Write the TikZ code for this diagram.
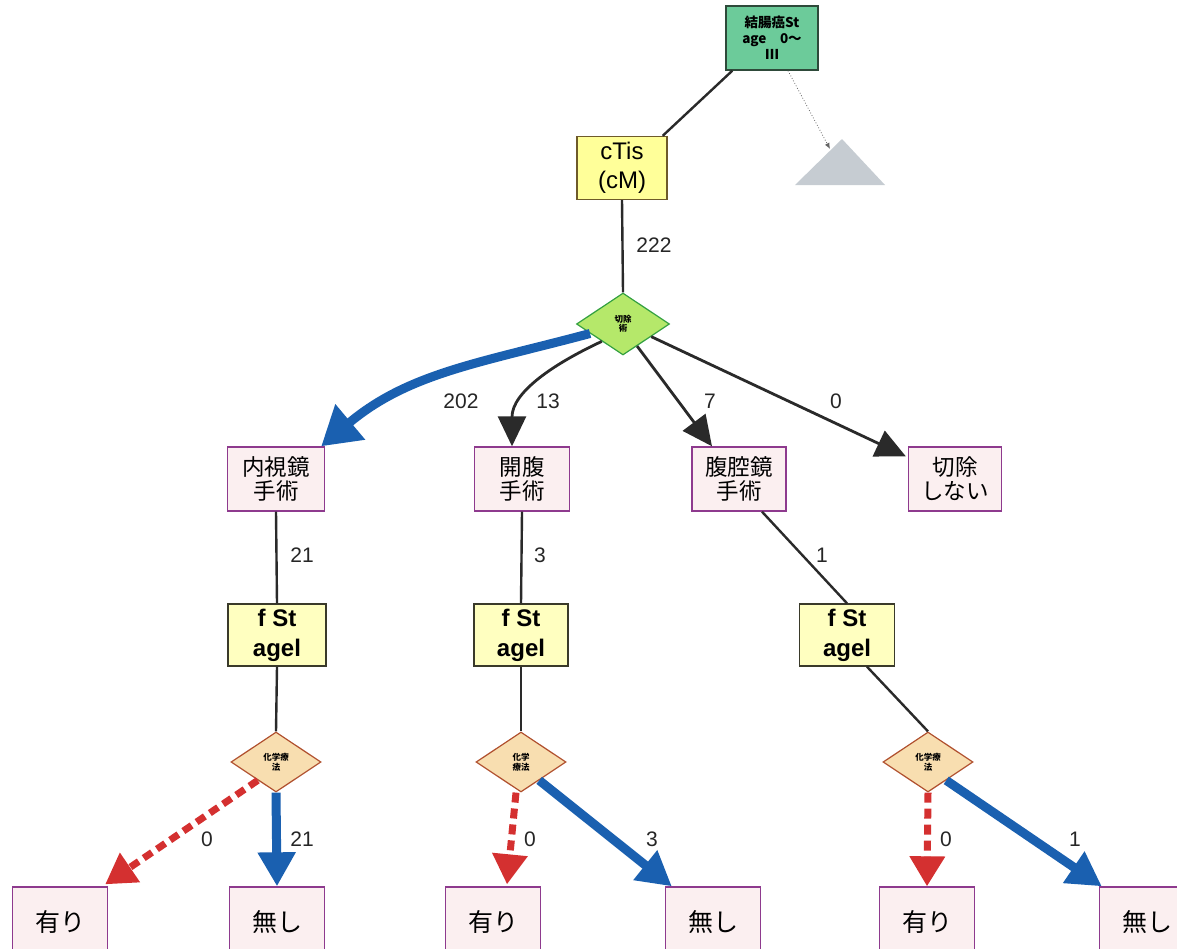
\documentclass[tikz,border=0pt]{standalone}
\usepackage{fontspec}
\setmainfont{Liberation Sans}
\newfontfamily\jp{Noto Sans CJK JP}
\usetikzlibrary{shapes.geometric,arrows.meta,calc}
\definecolor{topgreen}{HTML}{6CCB9A}
\definecolor{topborder}{HTML}{2E4A3A}
\definecolor{ctisyellow}{HTML}{FFFF99}
\definecolor{ctisborder}{HTML}{6E5A2A}
\definecolor{d1fill}{HTML}{B5E86A}
\definecolor{d1border}{HTML}{33A040}
\definecolor{pinkfill}{HTML}{FBEFF0}
\definecolor{purpleborder}{HTML}{8E3A8E}
\definecolor{fyellow}{HTML}{FFFFC0}
\definecolor{fborder}{HTML}{3A3A2A}
\definecolor{tanfill}{HTML}{F8DEB0}
\definecolor{tanborder}{HTML}{B0502E}
\definecolor{myblue}{HTML}{1A60B0}
\definecolor{myred}{HTML}{D43030}
\definecolor{trigray}{HTML}{C6CCD2}
\definecolor{lineblack}{HTML}{2A2A2A}
\begin{document}
\begin{tikzpicture}[x=1pt,y=1pt,
  box/.style={draw, rectangle, inner sep=0pt, align=center, line width=1.4pt},
  topbox/.style={box, fill=topgreen, draw=topborder, minimum width=92, minimum height=64,
    font=\jp\bfseries\fontsize{13.5}{16}\selectfont},
  ctisbox/.style={box, fill=ctisyellow, draw=ctisborder, minimum width=90, minimum height=63,
    font=\fontsize{24}{29}\selectfont},
  pinkbox/.style={box, fill=pinkfill, draw=purpleborder, minimum height=64,
    font=\jp\fontsize{22.5}{24}\selectfont},
  fbox/.style={box, fill=fyellow, draw=fborder, minimum height=62,
    font=\bfseries\fontsize{24}{30}\selectfont},
  leafbox/.style={box, fill=pinkfill, draw=purpleborder, minimum width=95, minimum height=70,
    font=\jp\fontsize{25}{28}\selectfont},
  bigdia/.style={diamond, draw=d1border, fill=d1fill, line width=1.2pt, inner sep=0pt,
    minimum width=93, minimum height=62, font=\jp\bfseries\fontsize{8.5}{9}\selectfont, align=center},
  smalldia/.style={diamond, draw=tanborder, fill=tanfill, line width=1.2pt, inner sep=0pt,
    minimum width=90, minimum height=60, font=\jp\bfseries\fontsize{8.5}{9.5}\selectfont, align=center},
  num/.style={inner sep=1pt, font=\fontsize{21}{23}\selectfont, text=black!85},
  plainline/.style={draw=lineblack, line width=2.4pt},
  blackarrow/.style={draw=lineblack, line width=2.8pt, -{Triangle[length=30pt,width=28pt]}},
  bluebig/.style={draw=myblue, line width=9pt, -{Triangle[length=38pt,width=44pt]}},
  blueshort/.style={draw=myblue, line width=9pt, -{Triangle[length=34pt,width=36pt]}},
  reddash/.style={draw=myred, line width=7pt, dash pattern=on 10pt off 6pt,
    -{Triangle[length=30pt,width=34pt]}}
]
\path[use as bounding box] (0,-948) rectangle (1177,0);
\clip (0,-948) rectangle (1177,0);

% nodes
\node[topbox] (top) at (772,-38) {結腸癌St\\age　0～\\Ⅲ};
\node[ctisbox] (ctis) at (622,-168) {cTis\\(cM)};
\node[bigdia] (d1) at (623,-324) {切除\\術};

\node[pinkbox, minimum width=97] (c1) at (276,-479) {内視鏡\\手術};
\node[pinkbox, minimum width=95] (c2) at (522,-479) {開腹\\手術};
\node[pinkbox, minimum width=94] (c3) at (739,-479) {腹腔鏡\\手術};
\node[pinkbox, minimum width=93] (c4) at (955,-479) {切除\\しない};

\node[fbox, minimum width=98] (f1) at (277,-635) {f St\\agel};
\node[fbox, minimum width=94] (f2) at (521,-635) {f St\\agel};
\node[fbox, minimum width=95] (f3) at (847,-635) {f St\\agel};

\node[smalldia] (g1) at (276,-762) {化学療\\法};
\node[smalldia] (g2) at (521,-762) {化学\\療法};
\node[smalldia] (g3) at (928,-762) {化学療\\法};

\node[leafbox] (l1) at (60,-922) {有り};
\node[leafbox] (l2) at (277,-922) {無し};
\node[leafbox] (l3) at (493,-922) {有り};
\node[leafbox] (l4) at (713,-922) {無し};
\node[leafbox] (l5) at (927,-922) {有り};
\node[leafbox] (l6) at (1147,-922) {無し};

% triangle
\coordinate (triA) at (842,-139);
\fill[trigray] (795,-185) -- (triA) -- (885,-185) -- cycle;
\coordinate (triIn) at (830,-149);

% connectors top
\draw[plainline] ($(top.south west)+(7,0)$) -- ($(ctis.north east)+(-5,0)$);
\draw[draw=black!60, line width=0.8pt, dotted, -{Latex[length=6pt,width=5pt]}] ($(top.south)+(16,0)$) -- (triIn);
\draw[plainline] (ctis.south) -- (d1.north);

% from d1
\draw[bluebig] ($(d1.west)!0.3!(d1.south)$) to[out=195, in=40] ($(c1.north east)+(-4,0)$);
\draw[blackarrow] ($(d1.west)!0.55!(d1.south)$) to[out=205, in=90] ($(c2.north)+(-10,0)$);
\draw[blackarrow] ($(d1.south)!0.3!(d1.east)$) -- ($(c3.north)+(-27,0)$);
\draw[blackarrow] ($(d1.south)!0.6!(d1.east)$) -- ($(c4.north west)+(-2,-10)$);

% children to f
\draw[plainline] (c1.south) -- (f1.north);
\draw[plainline] (c2.south) -- (f2.north);
\draw[plainline] ($(c3.south)+(23,0)$) -- (f3.north);

% f to small diamonds
\draw[plainline] (f1.south) -- (g1.north);
\draw[plainline] (f2.south) -- (g2.north);
\draw[plainline] ($(f3.south)+(20,0)$) -- (g3.north);

% bottom arrows
\draw[reddash] ($(g1.west)!0.6!(g1.south)$) -- ($(l1.north east)+(-3,2)$);
\draw[blueshort] (g1.south) -- (l2.north);
\draw[reddash] ($(g2.south)+(-5,0)$) -- ($(l3.north)+(14,2)$);
\draw[blueshort] ($(g2.south)!0.4!(g2.east)$) -- ($(l4.north west)+(7,0)$);
\draw[reddash] (g3.south) -- (l5.north);
\draw[blueshort] ($(g3.south)!0.4!(g3.east)$) -- ($(l6.north west)+(3,0)$);

% labels
\node[num] (n222) at (654,-245) {222};
\node[num] (n202) at (461,-401) {202};
\node[num] (n13) at (548,-401) {13};
\node[num] (n7) at (710,-401) {7};
\node[num] (n0a) at (836,-401) {0};
\node[num] (n21a) at (302,-555) {21};
\node[num] (n3a) at (540,-555) {3};
\node[num] (n1a) at (822,-555) {1};
\node[num] (n0b) at (207,-839) {0};
\node[num] (n21b) at (302,-839) {21};
\node[num] (n0c) at (530,-839) {0};
\node[num] (n3b) at (652,-839) {3};
\node[num] (n0d) at (946,-839) {0};
\node[num] (n1b) at (1075,-839) {1};
\end{tikzpicture}
\end{document}
